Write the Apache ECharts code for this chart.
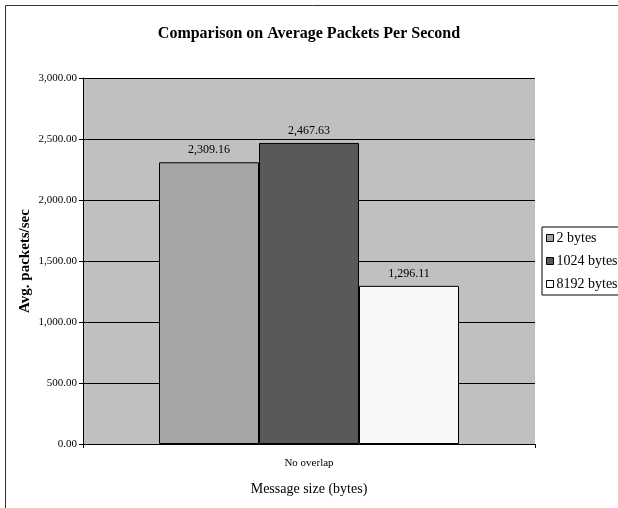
<!DOCTYPE html>
<html>
<head>
<meta charset="utf-8">
<script src="https://cdn.jsdelivr.net/npm/echarts@6/dist/echarts.min.js"></script>
<style>
  html, body { margin: 0; padding: 0; background: #fff; }
  #chart { width: 618px; height: 508px; }
</style>
</head>
<body>
<div id="chart"></div>
<script>
// Average packets per second for each message size
const categories = ['No overlap'];
const seriesNames = ['2 bytes', '1024 bytes', '8192 bytes'];
const values2 = [2309.16];
const values1024 = [2467.63];
const values8192 = [1296.11];
const barColors = ['#a5a5a5', '#595959', '#f8f8f8'];

const serif = '"Liberation Serif", "DejaVu Serif", serif';

function fmt(v) {
  const parts = Number(v).toFixed(2).split('.');
  parts[0] = parts[0].replace(/\B(?=(\d{3})+(?!\d))/g, ',');
  return parts.join('.');
}

function makeSeries(name, data, color) {
  return {
    name: name,
    type: 'bar',
    data: data,
    barWidth: 100,
    barGap: '0%',
    itemStyle: { color: color, borderColor: '#000', borderWidth: 1 },
    label: {
      show: true,
      position: 'top',
      distance: 6,
      formatter: (p) => fmt(p.value),
      fontFamily: serif,
      fontSize: 12,
      color: '#000'
    }
  };
}

const chart = echarts.init(document.getElementById('chart'), null, { renderer: 'canvas' });
chart.setOption({
  animation: false,
  backgroundColor: '#fff',
  graphic: [{
    type: 'rect',
    shape: { x: 5.5, y: 5.5, width: 700, height: 600 },
    style: { fill: 'none', stroke: '#333', lineWidth: 1 },
    silent: true,
    z: 100
  }],
  title: {
    text: 'Comparison on Average Packets Per Second',
    left: 'center',
    top: 21,
    textStyle: { fontFamily: serif, fontSize: 16, fontWeight: 'bold', color: '#000' }
  },
  legend: {
    orient: 'vertical',
    left: 542,
    top: 227,
    padding: [4, 6, 4, 4],
    itemGap: 9,
    itemWidth: 7,
    itemHeight: 7,
    icon: 'rect',
    backgroundColor: '#fff',
    borderColor: '#000',
    borderWidth: 1,
    itemStyle: { borderColor: '#000', borderWidth: 1 },
    textStyle: { fontFamily: serif, fontSize: 14, color: '#000', padding: [0, 0, 0, -2] },
    data: seriesNames
  },
  grid: {
    left: 83,
    right: 83,
    top: 78,
    bottom: 64,
    show: true,
    backgroundColor: '#c0c0c0',
    borderWidth: 0
  },
  xAxis: {
    type: 'category',
    data: categories,
    name: 'Message size (bytes)',
    nameLocation: 'middle',
    nameGap: 38,
    nameMoveOverlap: false,
    nameTextStyle: { fontFamily: serif, fontSize: 14, color: '#000' },
    axisLine: { lineStyle: { color: '#000', width: 1 } },
    axisTick: { show: true, length: 4, lineStyle: { color: '#000' } },
    axisLabel: { fontFamily: serif, fontSize: 11, color: '#000', margin: 14 }
  },
  yAxis: {
    type: 'value',
    min: 0,
    max: 3000,
    interval: 500,
    name: 'Avg. packets/sec',
    nameLocation: 'middle',
    nameGap: 50,
    nameMoveOverlap: false,
    nameTextStyle: { fontFamily: serif, fontSize: 15, fontWeight: 'bold', color: '#000' },
    axisLine: { show: true, lineStyle: { color: '#000', width: 1 } },
    axisTick: { show: true, length: 4, lineStyle: { color: '#000' } },
    axisLabel: { fontFamily: serif, fontSize: 11, color: '#000', margin: 6, formatter: fmt },
    splitLine: { show: true, lineStyle: { color: '#000', width: 1 } }
  },
  series: [
    makeSeries(seriesNames[0], values2, barColors[0]),
    makeSeries(seriesNames[1], values1024, barColors[1]),
    makeSeries(seriesNames[2], values8192, barColors[2])
  ]
});
</script>
</body>
</html>
